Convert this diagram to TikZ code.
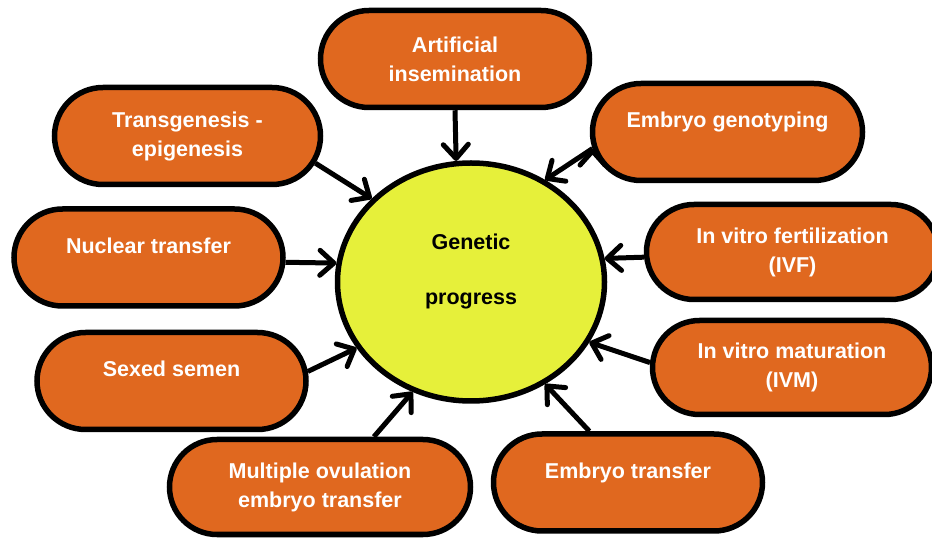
\documentclass[tikz,border=0pt]{standalone}
\usepackage{fontspec}
\setmainfont{Liberation Sans}
\usetikzlibrary{shapes.misc, shapes.geometric, arrows.meta, shadows}

\definecolor{techorange}{RGB}{224,104,31}
\definecolor{goalyellow}{RGB}{230,240,58}

\tikzset{
    tech/.style={rounded rectangle, draw=black, line width=5.5pt, fill=techorange,
        text=white, font=\bfseries\fontsize{21.5}{29}\selectfont, align=center,
        minimum width=273pt, minimum height=97pt, inner xsep=2pt,
        drop shadow={shadow xshift=2pt, shadow yshift=-2pt, opacity=0.3}},
    onel/.style={text height=16pt, text depth=24pt},
    goal/.style={ellipse, draw=black, line width=5.5pt, fill=goalyellow,
        font=\bfseries\fontsize{21.5}{29}\selectfont, align=center,
        minimum width=267pt, minimum height=238pt, inner sep=0pt, text depth=25pt,
        drop shadow={shadow xshift=2pt, shadow yshift=-2pt, opacity=0.3}},
    arr/.style={line width=5pt, -{Straight Barb[length=14pt, width=25pt, round]}}
}

\begin{document}
\begin{tikzpicture}[x=1pt, y=1pt]
    \useasboundingbox (0,0) rectangle (932,541);

    \node[goal] (gp) at (471,259) {Genetic\\[26pt]progress};

    \node[tech] (ai) at (455,482) {Artificial\\insemination};
    \node[tech, minimum width=270pt] (tg) at (187.5,405) {Transgenesis -\\epigenesis};
    \node[tech, onel] (nt) at (148.5,283.5) {Nuclear transfer};
    \node[tech, onel] (ss) at (171.5,160) {Sexed semen};
    \node[tech, minimum width=305pt, minimum height=95pt] (mo) at (320,54) {Multiple ovulation\\embryo transfer};
    \node[tech, onel] (et) at (628,58.5) {Embryo transfer};
    \node[tech, onel, minimum width=274pt] (eg) at (727.5,409) {Embryo genotyping};
    \node[tech, minimum width=296pt, minimum height=95pt] (ivf) at (792.5,289) {In vitro fertilization\\(IVF)};
    \node[tech, minimum width=283pt, minimum height=94pt] (ivm) at (792,173.5) {In vitro maturation\\(IVM)};

    \draw[arr]
        (ai.south) edge (gp.97)
        (tg.-12) edge (gp.140)
        (nt.-2) edge (gp.172)
        (ss.4) edge (gp.210)
        (mo.43) edge (gp.242)
        (et.127) edge (gp.-54)
        (ivm.178) edge (gp.-27)
        (ivf.182) edge (gp.10)
        (eg.187) edge (gp.54)
        ;
\end{tikzpicture}
\end{document}
